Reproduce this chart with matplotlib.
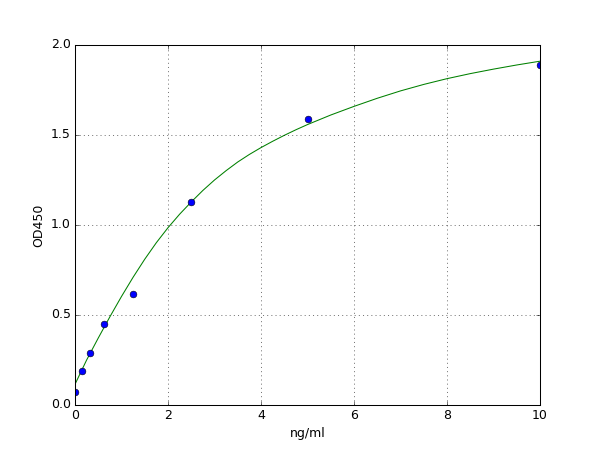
import matplotlib
matplotlib.use('Agg')
import matplotlib.pyplot as plt
import numpy as np

plt.style.use('classic')

# measured standards
conc = [0, 0.156, 0.3125, 0.625, 1.25, 2.5, 5, 10]
od = [0.074, 0.19, 0.287, 0.45, 0.617, 1.128, 1.59, 1.89]

# fitted curve
curve_x = [0, 0.25, 0.5, 0.75, 1.0, 1.25, 1.5, 1.75, 2.0, 2.25, 2.5, 2.75,
           3.0, 3.25, 3.5, 3.75, 4.0, 4.25, 4.5, 4.75, 5.0, 5.5, 6.0, 6.5,
           7.0, 7.5, 8.0, 8.5, 9.0, 9.5, 10.0]
curve_y = [0.115, 0.25, 0.372, 0.49, 0.603, 0.71, 0.81, 0.902, 0.985, 1.06,
           1.128, 1.192, 1.25, 1.302, 1.35, 1.392, 1.43, 1.465, 1.498, 1.529,
           1.558, 1.611, 1.659, 1.704, 1.745, 1.781, 1.813, 1.841, 1.866,
           1.889, 1.91]

fig = plt.figure(figsize=(8, 6), dpi=75, facecolor='white')
ax = fig.add_subplot(111)

ax.plot(curve_x, curve_y, 'g-')
ax.plot(conc, od, 'bo', markersize=6.5)

ax.set_xlim(0, 10)
ax.set_ylim(0, 2)
ax.set_xticks([0, 2, 4, 6, 8, 10])
ax.set_yticks([0.0, 0.5, 1.0, 1.5, 2.0])
ax.grid(True)
ax.set_xlabel('ng/ml')
ax.set_ylabel('OD450')

fig.savefig('out.png', dpi=75, facecolor='white')
